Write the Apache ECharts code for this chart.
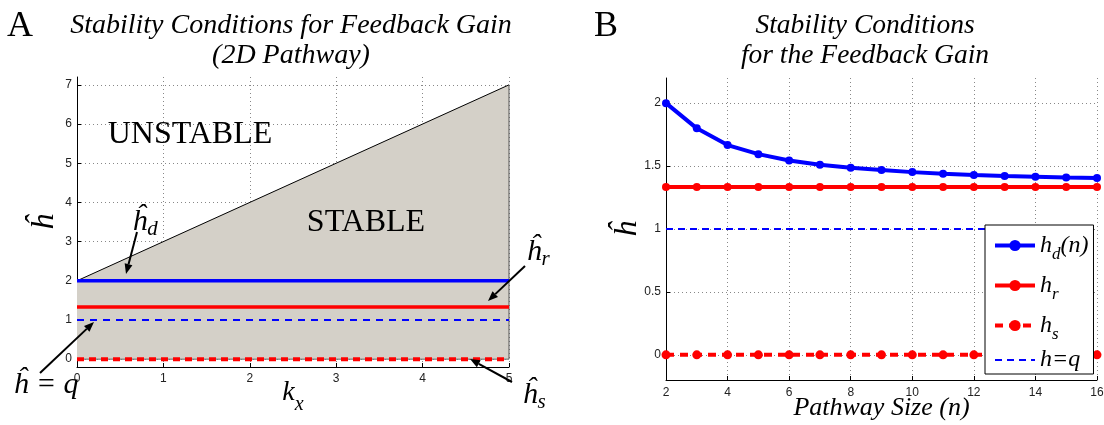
<!DOCTYPE html>
<html><head><meta charset="utf-8">
<script src="https://cdn.jsdelivr.net/npm/echarts@6/dist/echarts.min.js"></script>
<style>html,body{margin:0;padding:0;background:#fff}#c{width:1104px;height:425px}</style>
</head><body><div id="c"></div>
<script>
// ---- Panel A data ----
const kxRange = [0, 5];
const boundaryH = [2, 7];        // stability boundary at kx = 0 and kx = 5
const hdLevelA = [2, 2];
const hrLevelA = [1.333, 1.333];
const qLevelA = [1, 1];
const hsLevelA = [0, 0];
// ---- Panel B data ----
const pathwaySize = [2, 3, 4, 5, 6, 7, 8, 9, 10, 11, 12, 13, 14, 15, 16];
const hdB = [2, 1.8, 1.667, 1.595, 1.545, 1.51, 1.487, 1.468, 1.452, 1.44, 1.43, 1.422, 1.416, 1.41, 1.405];
const hrB = [1.333, 1.333, 1.333, 1.333, 1.333, 1.333, 1.333, 1.333, 1.333, 1.333, 1.333, 1.333, 1.333, 1.333, 1.333];
const hsB = [0, 0, 0, 0, 0, 0, 0, 0, 0, 0, 0, 0, 0, 0, 0];
const qB = [1, 1, 1, 1, 1, 1, 1, 1, 1, 1, 1, 1, 1, 1, 1];

const SERIF = "'Liberation Serif', 'DejaVu Serif', serif";
const SANS = "'Liberation Sans', Arial, sans-serif";
const BLUE = '#0000ff', RED = '#ff0000';

function pairs(xs, ys) { return xs.map((x, i) => [x, ys[i]]); }

// i = main italic glyphs, s = subscript dropped by `drop` px
const richMath = (size, color, drop) => ({
  i: { fontFamily: SERIF, fontStyle: 'italic', fontSize: size, lineHeight: size + 4, color: color },
  s: { fontFamily: SERIF, fontStyle: 'italic', fontSize: Math.round(size * 0.7), lineHeight: Math.round(size * 0.6), color: color, padding: [2 * drop, 0, 0, 0] }
});

function arrow(x1, y1, x2, y2) {
  const a = Math.atan2(y2 - y1, x2 - x1), L = 10, W = 4;
  const bx = x2 - L * Math.cos(a), by = y2 - L * Math.sin(a);
  return [
    { type: 'line', shape: { x1, y1, x2: bx, y2: by }, style: { stroke: '#000', lineWidth: 2 }, z: 100 },
    { type: 'polygon', shape: { points: [[x2, y2], [bx + W * Math.sin(a), by - W * Math.cos(a)], [bx - W * Math.sin(a), by + W * Math.cos(a)]] }, style: { fill: '#000' }, z: 100 }
  ];
}
function mathText(x, y, text, size, color, drop) {
  return { type: 'text', x, y, z: 100, style: { text, rich: richMath(size, color, drop), align: 'center', verticalAlign: 'middle' } };
}

const axisCommon = {
  nameMoveOverlap: false,
  axisLine: { show: true, onZero: false, lineStyle: { color: '#000', width: 1 } },
  axisTick: { show: true, inside: true, length: 4, lineStyle: { color: '#000' } },
  axisLabel: { color: '#222', fontFamily: SANS, fontSize: 12, showMinLabel: true, showMaxLabel: true },
  splitLine: { show: true, showMinLine: false, lineStyle: { color: '#888', type: [1, 3], width: 1 } }
};

const option = {
  animation: false,
  backgroundColor: '#fff',
  grid: [
    { left: 77, right: 595, top: 77, bottom: 58, containLabel: false, outerBoundsMode: 'none' },
    { left: 666, right: 7, top: 78, bottom: 45, containLabel: false, outerBoundsMode: 'none' }
  ],
  xAxis: [
    Object.assign({}, axisCommon, { gridIndex: 0, type: 'value', min: 0, max: 5, interval: 1,
      axisLabel: Object.assign({}, axisCommon.axisLabel, { margin: 6 }),
      name: '{i|k}{s|x}', nameLocation: 'middle', nameGap: 10,
      nameTextStyle: { rich: richMath(28, '#000', 12) } }),
    Object.assign({}, axisCommon, { gridIndex: 1, type: 'value', min: 2, max: 16, interval: 2,
      axisLabel: Object.assign({}, axisCommon.axisLabel, { margin: 7 }),
      name: 'Pathway Size (n)', nameLocation: 'middle', nameGap: 15,
      nameTextStyle: { fontFamily: SERIF, fontStyle: 'italic', fontSize: 26, color: '#000' } })
  ],
  yAxis: [
    Object.assign({}, axisCommon, { gridIndex: 0, type: 'value', min: -0.2, max: 7.2, splitNumber: 7,
      axisLabel: Object.assign({}, axisCommon.axisLabel, { showMinLabel: false, showMaxLabel: false, margin: 5 }),
      splitLine: Object.assign({}, axisCommon.splitLine, { showMaxLine: false }),
      name: 'ĥ', nameLocation: 'middle', nameGap: 16, nameRotate: 90,
      nameTextStyle: { fontFamily: SERIF, fontStyle: 'italic', fontSize: 32, color: '#000' } }),
    Object.assign({}, axisCommon, { gridIndex: 1, type: 'value', min: -0.2, max: 2.2, splitNumber: 5,
      axisLabel: Object.assign({}, axisCommon.axisLabel, { showMinLabel: false, showMaxLabel: false, margin: 5 }),
      splitLine: Object.assign({}, axisCommon.splitLine, { showMaxLine: false }),
      name: 'ĥ', nameLocation: 'middle', nameGap: 22, nameRotate: 90,
      nameTextStyle: { fontFamily: SERIF, fontStyle: 'italic', fontSize: 32, color: '#000' } })
  ],
  legend: {
    z: 20,
    data: [
      { name: 'hd', lineStyle: { width: 4 } },
      { name: 'hr', lineStyle: { width: 4 } },
      { name: 'hs', lineStyle: { width: 4 } },
      { name: 'q', lineStyle: { width: 2 }, itemStyle: { opacity: 0 } }
    ],
    orient: 'vertical', left: 985, top: 225,
    backgroundColor: '#fff', borderColor: '#000', borderWidth: 1,
    padding: [3, 5, 2, 8], itemGap: 5, itemWidth: 40, itemHeight: 14, itemTextGap: 2,
    formatter: function (n) {
      return { hd: '{i|h}{s|d}{i|(n)}', hr: '{i|h}{s|r}', hs: '{i|h}{s|s}', q: '{i|h=q}' }[n];
    },
    textStyle: { rich: richMath(24, '#000', 9) }
  },
  series: [
    // Panel A
    { name: 'boundary', type: 'line', xAxisIndex: 0, yAxisIndex: 0, data: pairs(kxRange, boundaryH), symbol: 'none',
      lineStyle: { color: '#000', width: 1 }, areaStyle: { color: '#d4d0c8', opacity: 1, origin: 0 }, z: 1 },
    { name: 'edge', type: 'line', xAxisIndex: 0, yAxisIndex: 0, data: [[kxRange[1], hsLevelA[1]], [kxRange[1], boundaryH[1]]], symbol: 'none',
      lineStyle: { color: '#555', width: 1 }, z: 2 },
    { name: 'base', type: 'line', xAxisIndex: 0, yAxisIndex: 0, data: pairs(kxRange, hsLevelA), symbol: 'none',
      lineStyle: { color: '#666', width: 1 }, z: 2 },
    { name: 'hdA', type: 'line', xAxisIndex: 0, yAxisIndex: 0, data: pairs(kxRange, hdLevelA), symbol: 'none',
      lineStyle: { color: BLUE, width: 3.5 }, z: 3 },
    { name: 'hrA', type: 'line', xAxisIndex: 0, yAxisIndex: 0, data: pairs(kxRange, hrLevelA), symbol: 'none',
      lineStyle: { color: RED, width: 3.5 }, z: 3 },
    { name: 'qA', type: 'line', xAxisIndex: 0, yAxisIndex: 0, data: pairs(kxRange, qLevelA), symbol: 'none',
      lineStyle: { color: BLUE, width: 2, type: [7, 6] }, z: 3 },
    { name: 'hsA', type: 'line', xAxisIndex: 0, yAxisIndex: 0, data: pairs(kxRange, hsLevelA), symbol: 'none',
      lineStyle: { color: RED, width: 4, type: [7, 5] }, z: 3 },
    // Panel B
    { name: 'hd', type: 'line', xAxisIndex: 1, yAxisIndex: 1, data: pairs(pathwaySize, hdB),
      symbol: 'circle', symbolSize: 8, itemStyle: { color: BLUE }, lineStyle: { color: BLUE, width: 4 }, z: 5 },
    { name: 'hr', type: 'line', xAxisIndex: 1, yAxisIndex: 1, data: pairs(pathwaySize, hrB),
      symbol: 'circle', symbolSize: 8, itemStyle: { color: RED }, lineStyle: { color: RED, width: 4 }, z: 4 },
    { name: 'hs', type: 'line', xAxisIndex: 1, yAxisIndex: 1, data: pairs(pathwaySize, hsB),
      symbol: 'circle', symbolSize: 9, itemStyle: { color: RED }, lineStyle: { color: RED, width: 4, type: [8, 6] }, z: 4 },
    { name: 'q', type: 'line', xAxisIndex: 1, yAxisIndex: 1, data: pairs(pathwaySize, qB),
      symbol: 'none', itemStyle: { color: BLUE }, lineStyle: { color: BLUE, width: 2, type: [7, 5] }, z: 3 }
  ],
  graphic: [].concat(
    [
      { type: 'text', x: 7, y: 9, style: { text: 'A', font: '36px ' + SERIF, fill: '#000' } },
      { type: 'text', x: 594, y: 9, style: { text: 'B', font: '36px ' + SERIF, fill: '#000' } },
      { type: 'text', x: 291, y: 11, style: { text: 'Stability Conditions for Feedback Gain\n(2D Pathway)', fontFamily: SERIF, fontStyle: 'italic', fontSize: 28, lineHeight: 30, fill: '#000', align: 'center' } },
      { type: 'text', x: 865, y: 11, style: { text: 'Stability Conditions\nfor the Feedback Gain', fontFamily: SERIF, fontStyle: 'italic', fontSize: 27.5, lineHeight: 30, fill: '#000', align: 'center' } },
      { type: 'text', x: 190, y: 135, z: 100, style: { text: 'UNSTABLE', font: '32px ' + SERIF, fill: '#000', align: 'center', verticalAlign: 'middle' } },
      { type: 'text', x: 366, y: 223, z: 100, style: { text: 'STABLE', font: '32px ' + SERIF, fill: '#000', align: 'center', verticalAlign: 'middle' } },
      mathText(145, 222, '{i|ĥ}{s|d}', 30, BLUE, 7),
      mathText(46, 385, '{i|ĥ = q}', 30, BLUE, 0),
      mathText(538, 252, '{i|ĥ}{s|r}', 30, RED, 7),
      mathText(534, 395, '{i|ĥ}{s|s}', 30, RED, 7)
    ],
    arrow(137, 232, 126, 274),
    arrow(40, 373, 94, 322),
    arrow(525, 266, 488, 301),
    arrow(512, 382, 470, 359)
  )
};

const chart = echarts.init(document.getElementById('c'), null, { renderer: 'canvas' });
chart.setOption(option);
</script>
</body></html>
